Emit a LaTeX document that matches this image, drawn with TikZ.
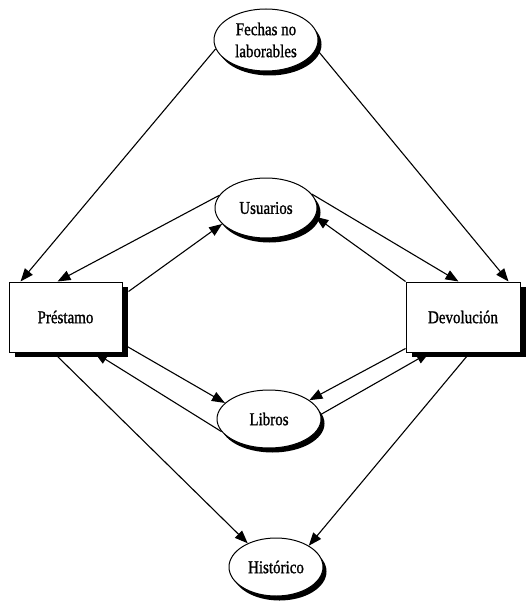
\documentclass[tikz,border=0pt]{standalone}
\usepackage{fontspec}
\setmainfont{Liberation Serif}
\usetikzlibrary{arrows.meta,shapes.geometric,shadows,calc}
\newcommand{\vtxt}[1]{\scalebox{1}[1.2]{#1}}
\begin{document}
\begin{tikzpicture}[x=1pt,y=-1pt,
  ent/.style={ellipse,draw,fill=white,line width=1pt,inner sep=0pt,
     font=\fontsize{15}{22}\selectfont\addfontfeature{FakeBold=1.2},align=center,
     drop shadow={shadow xshift=3.5pt,shadow yshift=-4.5pt,fill=black,opacity=1}},
  proc/.style={rectangle,draw,fill=white,line width=1pt,inner sep=0pt,
     minimum width=113pt,minimum height=70pt,
     font=\fontsize{15}{17}\selectfont\addfontfeature{FakeBold=1.2},
     drop shadow={shadow xshift=6pt,shadow yshift=-5pt,fill=black,opacity=1}},
  flow/.style={draw,line width=1.1pt,-{Triangle[length=13pt,width=10pt]}}]
\useasboundingbox (0,0) rectangle (526,604);
\fill[white] (0,0) rectangle (526,604);

\node[ent,minimum width=104pt,minimum height=62pt] (fechas) at (266,40)
  {\vtxt{Fechas no}\\\vtxt{laborables}};
\node[ent,minimum width=102pt,minimum height=60pt] (usuarios) at (266,208) {\vtxt{Usuarios}};
\node[ent,minimum width=104pt,minimum height=58pt] (libros) at (269,419) {\vtxt{Libros}};
\node[ent,minimum width=94pt,minimum height=58pt] (historico) at (276,567) {\vtxt{Histórico}};
\node[proc] (prestamo) at (65.5,317) {\vtxt{Préstamo}};
\node[proc,minimum width=114pt] (devolucion) at (463,317) {\vtxt{Devolución}};

\draw[flow] (fechas.190) -- ($(prestamo.north west)+(12,0)$);
\draw[flow] (fechas.350) -- ($(devolucion.north east)+(-12,0)$);
\draw[flow] (usuarios.165) -- ($(prestamo.north west)+(49,0)$);
\draw[flow] ($(prestamo.north east)+(6,10)$) -- (usuarios.200);
\draw[flow] (usuarios.17) -- ($(devolucion.north west)+(53,0)$);
\draw[flow] (devolucion.north west) -- (usuarios.350);
\draw[flow] ($(prestamo.south east)+(3,-7)$) -- (libros.160);
\draw[flow] (libros.195) -- ($(prestamo.south west)+(86,0)$);
\draw[flow] ($(devolucion.south west)+(0,-4)$) -- (libros.25);
\draw[flow] (libros.5) -- ($(devolucion.south west)+(24,0)$);
\draw[flow] ($(prestamo.south west)+(45,0)$) -- (historico.140);
\draw[flow] ($(devolucion.south)+(7,0)$) -- (historico.33);
\end{tikzpicture}
\end{document}
